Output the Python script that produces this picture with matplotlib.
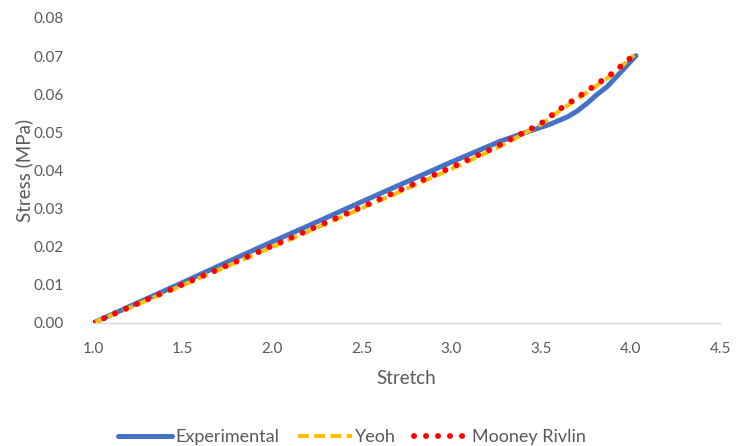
import matplotlib.pyplot as plt
import numpy as np

stretch_exp = [1.0, 1.25, 1.5, 1.75, 2.0, 2.25, 2.5, 2.75, 3.0, 3.27, 3.46, 3.55, 3.65, 3.70,
               3.76, 3.81, 3.87, 3.94, 4.03]
stress_exp = [0.0, 0.0053, 0.0106, 0.016, 0.0213, 0.0265, 0.0318, 0.037, 0.0422, 0.0476, 0.0507,
              0.0521, 0.0541, 0.0555, 0.0577, 0.0598, 0.062, 0.0655, 0.0701]

stretch_fit = [1.0, 1.25, 1.5, 1.75, 2.0, 2.25, 2.5, 2.75, 3.0, 3.25, 3.5, 3.6, 3.75, 3.9, 4.02]
stress_yeoh = [0.0, 0.0049, 0.0099, 0.0149, 0.0199, 0.025, 0.0301, 0.0352, 0.0404, 0.0458,
               0.0520, 0.0555, 0.0602, 0.0652, 0.0703]
stress_mooney = [0.0, 0.0051, 0.0101, 0.0151, 0.0202, 0.0253, 0.0304, 0.0356, 0.0408, 0.0462,
                 0.0523, 0.0559, 0.0606, 0.0655, 0.0703]

plt.rcParams['font.family'] = ['Lato', 'DejaVu Sans']
grey = '#595959'

fig = plt.figure(figsize=(7.36, 4.46), dpi=100)
ax = fig.add_axes([0.1264, 0.2758, 0.852, 0.684])

ax.plot(stretch_exp, stress_exp, '-', color='#4472C4', lw=3.6, solid_capstyle='round',
        solid_joinstyle='round', label='Experimental')
ax.plot(stretch_fit, stress_yeoh, color='#FFC000', lw=3.0, ls=(0, (2.6, 1.3)), label='Yeoh')
ax.plot(stretch_fit, stress_mooney, color='#FF0000', lw=4.3, ls=(0, (0.01, 2.0)),
        dash_capstyle='round', label='Mooney Rivlin')

ax.set_xlim(1.0, 4.5)
ax.set_ylim(0, 0.08)
ax.set_xticks(np.arange(1.0, 4.51, 0.5))
ax.set_yticks(np.arange(0, 0.081, 0.01))
ax.xaxis.set_major_formatter(plt.FormatStrFormatter('%.1f'))
ax.yaxis.set_major_formatter(plt.FormatStrFormatter('%.2f'))
ax.tick_params(length=0, labelsize=11, labelcolor=grey)
ax.tick_params(axis='x', pad=14)
ax.tick_params(axis='y', pad=21)
for s in ['top', 'right', 'left']:
    ax.spines[s].set_visible(False)
ax.spines['bottom'].set_color('#D9D9D9')
ax.spines['bottom'].set_linewidth(1.0)

ax.set_xlabel('Stretch', fontsize=13.5, color=grey, labelpad=10)
ax.set_ylabel('Stress (MPa)', fontsize=13.5, color=grey, labelpad=0)

fig.legend(loc='center', bbox_to_anchor=(0.478, 0.02), ncol=3, frameon=False, fontsize=13,
           labelcolor=grey, handlelength=3.0, handletextpad=0.2, columnspacing=1.0)

fig.savefig('out.png', dpi=100)
